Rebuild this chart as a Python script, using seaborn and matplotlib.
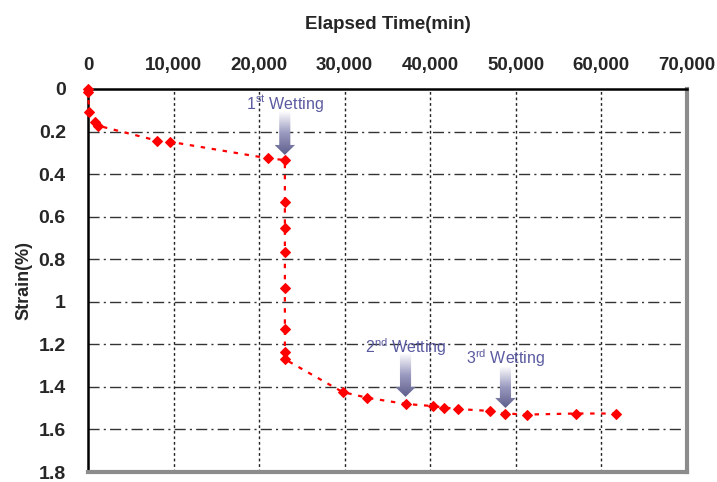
import numpy as np
import pandas as pd
import matplotlib
matplotlib.use("Agg")
import matplotlib.pyplot as plt
import seaborn as sns
from matplotlib.patches import Polygon
from matplotlib.colors import LinearSegmentedColormap

# data
time_min = [0, 0, 150, 820, 1130, 8100, 9580, 21060, 23010, 23010, 23010, 23010,
            23010, 23010, 23010, 23010, 29750, 32630, 37110, 40270, 41590, 43260,
            46960, 48710, 51320, 57090, 61680]
strain = [0.0, 0.015, 0.107, 0.154, 0.172, 0.243, 0.248, 0.326, 0.334, 0.530, 0.655,
          0.764, 0.937, 1.128, 1.234, 1.270, 1.424, 1.451, 1.480, 1.490, 1.497, 1.504,
          1.513, 1.525, 1.530, 1.525, 1.525]

xticks = [0, 10000, 20000, 30000, 40000, 50000, 60000, 70000]
xtick_labels = ["0", "10,000", "20,000", "30,000", "40,000", "50,000", "60,000", "70,000"]
yticks = [0, 0.2, 0.4, 0.6, 0.8, 1.0, 1.2, 1.4, 1.6, 1.8]
ytick_labels = ["0", "0.2", "0.4", "0.6", "0.8", "1", "1.2", "1.4", "1.6", "1.8"]

wet_labels = [r"1$^{\mathrm{st}}$ Wetting", r"2$^{\mathrm{nd}}$ Wetting", r"3$^{\mathrm{rd}}$ Wetting"]
wet_x = [23000, 37110, 48790]
wet_text_y = [0.066, 1.211, 1.264]
arrow_top = [0.107, 1.241, 1.305]
arrow_tip = [0.310, 1.447, 1.499]

sns.set_style("white")
plt.rcParams["font.family"] = ["Liberation Sans", "DejaVu Sans"]
plt.rcParams["mathtext.fontset"] = "custom"
plt.rcParams["mathtext.rm"] = "Liberation Sans"

df = pd.DataFrame({"time": time_min, "strain": strain})

fig = plt.figure(figsize=(7.17, 4.82), dpi=100)
ax = fig.add_axes([0.1227, 0.0207, 0.8354, 0.7947])

sns.lineplot(data=df, x="time", y="strain", sort=False, estimator=None,
             color="#ff0000", marker="D", markersize=5, markeredgecolor="#ff0000",
             linewidth=1.6, linestyle=(0, (2, 3)), ax=ax, zorder=4, clip_on=False)

ax.set_xlim(0, 70000)
ax.set_ylim(1.8, 0)
ax.xaxis.tick_top()
ax.xaxis.set_label_position("top")
ax.set_xticks(xticks)
ax.set_xticklabels(xtick_labels, fontsize=13.5, fontweight="bold")
ax.set_yticks(yticks)
ax.set_yticklabels(ytick_labels, fontsize=14, fontweight="bold")
ax.set_xlabel("Elapsed Time(min)", fontsize=13.5, fontweight="bold", labelpad=20)
ax.set_ylabel("Strain(%)", fontsize=13, fontweight="bold", labelpad=4)
ax.tick_params(axis="x", length=0, pad=11)
ax.tick_params(axis="y", length=0, pad=16)

# grid: dotted verticals, dash-dot horizontals
for xv in xticks[1:-1]:
    ax.axvline(xv, color="#222222", lw=1, linestyle=(0, (2, 2)), zorder=1)
for yv in yticks[1:-1]:
    ax.axhline(yv, color="#333333", lw=1, linestyle=(0, (8, 3, 1.5, 3)), zorder=1)

ax.spines["left"].set_color("black")
ax.spines["left"].set_linewidth(1.8)
ax.spines["top"].set_color("black")
ax.spines["top"].set_linewidth(1.8)
ax.spines["right"].set_color("#8c8c8c")
ax.spines["right"].set_linewidth(3)
ax.spines["bottom"].set_color("#8c8c8c")
ax.spines["bottom"].set_linewidth(3)

# gradient arrows for the wetting events
cmap = LinearSegmentedColormap.from_list("arr", ["#ffffff", "#9a9ac0", "#5e5e8c"])
grad = np.linspace(0, 1, 200).reshape(-1, 1)
shaft_w, head_w = 1300, 2400
for x, yt, yp in zip(wet_x, arrow_top, arrow_tip):
    yh = yp - 0.047
    verts = [(x - shaft_w / 2, yt), (x + shaft_w / 2, yt), (x + shaft_w / 2, yh),
             (x + head_w / 2, yh), (x, yp), (x - head_w / 2, yh), (x - shaft_w / 2, yh)]
    poly = Polygon(verts, closed=True, facecolor="none", edgecolor="none")
    ax.add_patch(poly)
    im = ax.imshow(grad, cmap=cmap, aspect="auto", origin="upper",
                   extent=(x - head_w / 2, x + head_w / 2, yp, yt), zorder=3)
    im.set_clip_path(poly)

for lab, x, y in zip(wet_labels, wet_x, wet_text_y):
    ax.text(x, y, lab, color="#5a5aa0", fontsize=11.5, ha="center", va="center", zorder=5)

ax.set_xlim(0, 70000)
ax.set_ylim(1.8, 0)

fig.savefig("out.png", dpi=100)
